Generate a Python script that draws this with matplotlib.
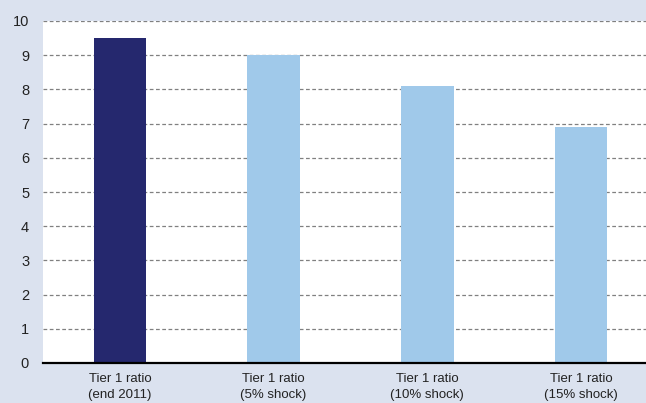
import numpy as np
import matplotlib.pyplot as plt

# data
categories = ['Tier 1 ratio\n(end 2011)', 'Tier 1 ratio\n(5% shock)',
              'Tier 1 ratio\n(10% shock)', 'Tier 1 ratio\n(15% shock)']
values = [9.5, 9.0, 8.1, 6.9]
bar_colors = ['#25286E', '#A0C9EA', '#A0C9EA', '#A0C9EA']
y_ticks = list(range(0, 11))

plt.rcParams['font.family'] = ['Liberation Sans', 'DejaVu Sans']

bg = '#DBE2EF'
fig = plt.figure(figsize=(6.46, 4.03), dpi=100, facecolor=bg)
ax = fig.add_axes([43/646, 40/403, 615/646, 342/403])
ax.set_facecolor('white')

x = np.arange(len(categories))
ax.bar(x, values, width=0.34, color=bar_colors, zorder=3)

ax.set_xlim(-0.5, 3.5)
ax.set_ylim(0, 10)
ax.set_yticks(y_ticks)
ax.set_xticks(x)
ax.set_xticklabels(categories, fontsize=9.5, color='#222222', linespacing=1.45)
ax.tick_params(axis='y', length=0, pad=10, labelsize=10.5, labelcolor='#222222')
ax.tick_params(axis='x', length=0, pad=7)

ax.yaxis.grid(True, linestyle=(0, (3, 2)), color='#808080', linewidth=0.9, zorder=1)
for s in ['top', 'right', 'left']:
    ax.spines[s].set_visible(False)
ax.spines['bottom'].set_linewidth(1.6)
ax.spines['bottom'].set_color('black')
ax.spines['bottom'].set_zorder(4)

fig.savefig('out.png', dpi=100, facecolor=bg)
